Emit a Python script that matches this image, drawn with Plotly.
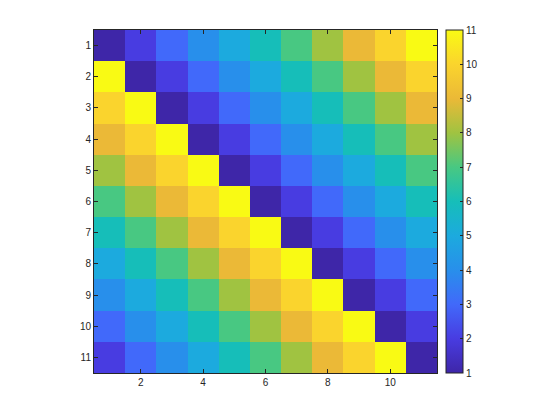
import plotly.graph_objects as go

x_vals = [1, 2, 3, 4, 5, 6, 7, 8, 9, 10, 11]
y_vals = [1, 2, 3, 4, 5, 6, 7, 8, 9, 10, 11]
z_rows = [
    [1, 2, 3, 4, 5, 6, 7, 8, 9, 10, 11],
    [11, 1, 2, 3, 4, 5, 6, 7, 8, 9, 10],
    [10, 11, 1, 2, 3, 4, 5, 6, 7, 8, 9],
    [9, 10, 11, 1, 2, 3, 4, 5, 6, 7, 8],
    [8, 9, 10, 11, 1, 2, 3, 4, 5, 6, 7],
    [7, 8, 9, 10, 11, 1, 2, 3, 4, 5, 6],
    [6, 7, 8, 9, 10, 11, 1, 2, 3, 4, 5],
    [5, 6, 7, 8, 9, 10, 11, 1, 2, 3, 4],
    [4, 5, 6, 7, 8, 9, 10, 11, 1, 2, 3],
    [3, 4, 5, 6, 7, 8, 9, 10, 11, 1, 2],
    [2, 3, 4, 5, 6, 7, 8, 9, 10, 11, 1],
]
x_ticks = [2, 4, 6, 8, 10]
cbar_ticks = [1, 2, 3, 4, 5, 6, 7, 8, 9, 10, 11]

parula = [
    [0.0, "rgb(62,38,168)"],
    [0.1, "rgb(72,60,225)"],
    [0.2, "rgb(65,105,250)"],
    [0.3, "rgb(40,143,235)"],
    [0.4, "rgb(28,170,222)"],
    [0.5, "rgb(22,190,185)"],
    [0.6, "rgb(72,200,130)"],
    [0.7, "rgb(160,195,65)"],
    [0.8, "rgb(235,185,55)"],
    [0.9, "rgb(250,212,45)"],
    [1.0, "rgb(249,250,20)"],
]

axcol = "rgb(38,38,38)"
font = dict(family="Liberation Sans, Arial, sans-serif", size=10, color=axcol)

fig = go.Figure(go.Heatmap(
    z=z_rows, x=x_vals, y=y_vals, colorscale=parula, zmin=1, zmax=11,
    xgap=0, ygap=0,
    colorbar=dict(
        x=1.026, xanchor="left", xref="paper", y=0.5, yanchor="middle",
        len=1.0, lenmode="fraction", thickness=17, thicknessmode="pixels",
        outlinewidth=1, outlinecolor=axcol, ticks="inside", ticklen=3,
        tickcolor=axcol, tickvals=cbar_ticks, ticktext=[str(t) for t in cbar_ticks],
        tickfont=font, xpad=0, ypad=0,
    ),
))

fig.update_layout(
    width=560, height=420,
    margin=dict(l=86, r=131, t=22, b=55),
    paper_bgcolor="white", plot_bgcolor="white",
    font=font,
)
fig.update_xaxes(
    range=[0.5, 11.5], tickvals=x_ticks, ticks="inside", ticklen=4,
    tickcolor=axcol, showline=True, linecolor=axcol, linewidth=1,
    mirror="ticks", showgrid=False, zeroline=False, tickfont=font,
)
fig.update_yaxes(
    range=[11.5, 0.5], tickvals=y_vals, ticks="inside", ticklen=4,
    tickcolor=axcol, showline=True, linecolor=axcol, linewidth=1,
    mirror="ticks", showgrid=False, zeroline=False, tickfont=font,
)

fig.write_html("out.html")
